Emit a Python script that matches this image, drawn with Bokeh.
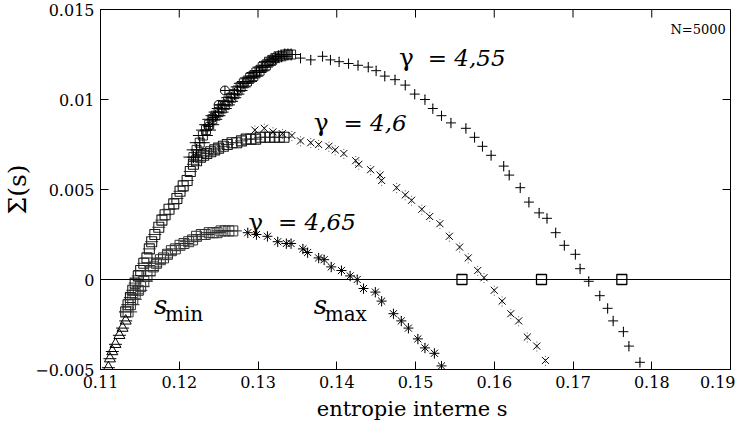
from bokeh.plotting import figure
from bokeh.models import Range1d, FixedTicker, Span, Label
from bokeh.embed import file_html
from bokeh.resources import INLINE

# ---------------- data ----------------
x_ticks = [0.11, 0.12, 0.13, 0.14, 0.15, 0.16, 0.17, 0.18, 0.19]
y_ticks = [-0.005, 0, 0.005, 0.01, 0.015]
y_tick_labels = ["\u22120.005", "0", "0.005", "0.01", "0.015"]

# gamma = 4.55 : dense branch (+ with horizontal bars)
s455_dense = [0.1218, 0.1222, 0.1226, 0.1230, 0.1234, 0.1238, 0.1242, 0.1246, 0.1250, 0.1254,
              0.1258, 0.1262, 0.1266, 0.1270, 0.1274, 0.1278, 0.1282, 0.1286, 0.1290, 0.1294,
              0.1298, 0.1302, 0.1306, 0.1310, 0.1314, 0.1318, 0.1322, 0.1326, 0.1330, 0.1334,
              0.1338, 0.1342]
sig455_dense = [0.0068, 0.0072, 0.0076, 0.0080, 0.0083, 0.0086, 0.0089, 0.0091, 0.0093, 0.0095,
                0.0097, 0.0099, 0.0101, 0.0103, 0.0105, 0.0107, 0.0109, 0.0110, 0.0112, 0.0113,
                0.0115, 0.0116, 0.0118, 0.0119, 0.0121, 0.0122, 0.0123, 0.0124, 0.0124, 0.0125,
                0.0125, 0.0125]
# gamma = 4.55 : a few isolated diamonds
s455_diam = [0.1237, 0.1243, 0.1250, 0.1258]
sig455_diam = [0.0085, 0.0090, 0.0097, 0.0105]
# gamma = 4.55 : sparse branch (+)
s455_plus = [0.1354, 0.1367, 0.1382, 0.1392, 0.1403, 0.1415, 0.1427, 0.1440, 0.1450, 0.1461,
             0.1474, 0.1487, 0.1499, 0.1512, 0.1522, 0.1533, 0.1545, 0.1564, 0.1575, 0.1585,
             0.1596, 0.1612, 0.1619, 0.1633, 0.1644, 0.1657, 0.1667, 0.1678, 0.1689, 0.1703,
             0.1709, 0.1720, 0.1734, 0.1744, 0.1751, 0.1764, 0.1771, 0.1785]
sig455_plus = [0.0123, 0.0122, 0.0124, 0.0122, 0.0121, 0.0120, 0.0119, 0.0118, 0.0116, 0.0113,
               0.0111, 0.0108, 0.0103, 0.0100, 0.0095, 0.0091, 0.0087, 0.0084, 0.0079, 0.0074,
               0.0069, 0.0063, 0.0058, 0.0051, 0.0043, 0.0037, 0.0034, 0.0026, 0.0019, 0.0014,
               0.0006, -0.0001, -0.0009, -0.0016, -0.0023, -0.0029, -0.0037, -0.0046]

# gamma = 4.6 : dense branch (squares)
s46_sq = [0.1132, 0.1135, 0.1138, 0.1141, 0.1144, 0.1148, 0.1151, 0.1155, 0.1159, 0.1162,
          0.1165, 0.1169, 0.1174, 0.1178, 0.1182, 0.1187, 0.1193, 0.1197, 0.1201, 0.1205,
          0.1210, 0.1214, 0.1218, 0.1222, 0.1227, 0.1231, 0.1235, 0.1240, 0.1245, 0.1250,
          0.1256, 0.1261, 0.1267, 0.1273, 0.1279, 0.1285, 0.1291, 0.1297, 0.1303, 0.1309,
          0.1315, 0.1321, 0.1327, 0.1333]
sig46_sq = [-0.0018, -0.0014, -0.0010, -0.0006, -0.0002, 0.0002, 0.0005, 0.0009, 0.0012, 0.0017,
            0.0021, 0.0025, 0.0029, 0.0033, 0.0036, 0.0039, 0.0042, 0.0045, 0.0049, 0.0052,
            0.0055, 0.0060, 0.0064, 0.0066, 0.0068, 0.0069, 0.0070, 0.0071, 0.0072, 0.0073,
            0.0074, 0.0075, 0.0076, 0.0076, 0.0077, 0.0078, 0.0078, 0.0078, 0.0079, 0.0079,
            0.0079, 0.0079, 0.0079, 0.0079]
# gamma = 4.6 : sparse branch (x)
s46_x = [0.1296, 0.1308, 0.1319, 0.1331, 0.1343, 0.1354, 0.1367, 0.1377, 0.1390, 0.1398,
         0.1409, 0.1424, 0.1428, 0.1443, 0.1455, 0.1457, 0.1476, 0.1487, 0.1495, 0.1508,
         0.1518, 0.1531, 0.1543, 0.1556, 0.1567, 0.1579, 0.1587, 0.1600, 0.1610, 0.1621,
         0.1631, 0.1642, 0.1654, 0.1665]
sig46_x = [0.0083, 0.0084, 0.0082, 0.0081, 0.0080, 0.0077, 0.0076, 0.0075, 0.0074, 0.0072,
           0.0070, 0.0066, 0.0064, 0.0061, 0.0058, 0.0055, 0.0051, 0.0047, 0.0044, 0.0039,
           0.0035, 0.0031, 0.0024, 0.0018, 0.0012, 0.0005, 0.0001, -0.0006, -0.0012, -0.0019,
           -0.0023, -0.0032, -0.0037, -0.0045]

# gamma = 4.65 : triangles, dense branch, sparse branch (*)
s465_tri = [0.1110, 0.1112, 0.1115, 0.1119, 0.1124, 0.1128, 0.1132]
sig465_tri = [-0.0049, -0.0044, -0.0040, -0.0036, -0.0031, -0.0027, -0.0023]
s465_dense = [0.1135, 0.1138, 0.1141, 0.1144, 0.1148, 0.1151, 0.1155, 0.1159, 0.1163, 0.1167,
              0.1171, 0.1176, 0.1180, 0.1185, 0.1190, 0.1195, 0.1201, 0.1206, 0.1212, 0.1217,
              0.1222, 0.1228, 0.1233, 0.1238, 0.1243, 0.1248, 0.1253, 0.1258, 0.1263, 0.1268]
sig465_dense = [-0.0018, -0.0014, -0.0011, -0.0008, -0.0006, -0.0004, -0.0001, 0.0002, 0.0005, 0.0007,
                0.0009, 0.0011, 0.0012, 0.0014, 0.0016, 0.0017, 0.0019, 0.0020, 0.0021, 0.0022,
                0.0024, 0.0025, 0.0025, 0.0026, 0.0026, 0.0026, 0.0027, 0.0027, 0.0027, 0.0027]
s465_star = [0.1287, 0.1298, 0.1312, 0.1325, 0.1336, 0.1342, 0.1357, 0.1363, 0.1377, 0.1384,
             0.1393, 0.1406, 0.1417, 0.1426, 0.1434, 0.1449, 0.1457, 0.1472, 0.1482, 0.1491,
             0.1503, 0.1512, 0.1524, 0.1533]
sig465_star = [0.0026, 0.0025, 0.0024, 0.0021, 0.0020, 0.0020, 0.0017, 0.0015, 0.0012, 0.0011,
               0.0007, 0.0005, 0.0002, 0.0000, -0.0005, -0.0007, -0.0012, -0.0019, -0.0023, -0.0027,
               -0.0033, -0.0038, -0.0041, -0.0048]

# zeros of Sigma (squares on the axis)
s_zero = [0.1559, 0.1660, 0.1762]
sig_zero = [0.0, 0.0, 0.0]

ERR = 0.0003       # half-length of dotted error bars on sparse points
TICK_X = 0.00101   # inner tick length (8 px) on the right side, in x units
TICK_Y = 0.00045   # inner tick length (8 px) on the top side, in y units

# ---------------- figure ----------------
SERIF = "DejaVu Serif"

X0, X1, Y0, Y1 = x_ticks[0], x_ticks[-1], y_ticks[0], y_ticks[-1]
p = figure(width=735, height=430, output_backend="svg", toolbar_location=None,
           x_range=Range1d(X0, X1), y_range=Range1d(Y0, Y1),
           min_border_left=95, min_border_right=5, min_border_top=9, min_border_bottom=61)
p.background_fill_color = "white"
p.border_fill_color = "white"
p.outline_line_color = "black"
p.grid.visible = False

p.xaxis.ticker = FixedTicker(ticks=x_ticks)
p.yaxis.ticker = FixedTicker(ticks=y_ticks)
p.yaxis.major_label_overrides = {t: l for t, l in zip(y_ticks, y_tick_labels)}
for ax in (p.xaxis[0], p.yaxis[0]):
    ax.major_tick_in = 8
    ax.major_tick_out = 0
    ax.minor_tick_in = 0
    ax.minor_tick_out = 0
    ax.axis_line_color = "black"
    ax.major_label_text_font = SERIF
    ax.major_label_text_font_size = "16px"
    ax.major_label_text_color = "black"
    ax.axis_label_text_font = SERIF
    ax.axis_label_text_font_style = "normal"
    ax.axis_label_text_color = "black"
p.xaxis.major_label_standoff = 6
p.yaxis.major_label_standoff = 6
p.xaxis.axis_label = "entropie interne  s"
p.xaxis.axis_label_text_font_size = "21px"
p.xaxis.axis_label_standoff = 6
p.yaxis.axis_label = "\u03a3(s)"
p.yaxis.axis_label_text_font_size = "25px"
p.yaxis.axis_label_standoff = 0

# mirrored inner ticks on the top and right edges
p.segment(x0=x_ticks, x1=x_ticks, y0=[Y1] * len(x_ticks), y1=[Y1 - TICK_Y] * len(x_ticks),
          line_color="black", line_width=1)
p.segment(x0=[X1] * len(y_ticks), x1=[X1 - TICK_X] * len(y_ticks), y0=y_ticks, y1=y_ticks,
          line_color="black", line_width=1)

p.add_layout(Span(location=0, dimension="width", line_color="black", line_width=1))

# dotted error bars on sparse points
for xs, ys in ((s455_plus, sig455_plus), (s46_x, sig46_x), (s465_star, sig465_star)):
    p.segment(x0=xs, x1=xs, y0=[v - ERR for v in ys], y1=[v + ERR for v in ys],
              line_color="#555555", line_width=1, line_dash="1 2")

# dense branches
p.scatter(s46_sq, sig46_sq, marker="dash", size=13, line_color="#333333", line_width=1)
p.scatter(s46_sq, sig46_sq, marker="square", size=10, fill_color=None,
          line_color="#1a1a1a", line_width=1.1)
p.scatter(s465_dense, sig465_dense, marker="dash", size=18, line_color="#2a2a2a", line_width=1)
p.scatter(s465_dense, sig465_dense, marker="square", size=10, fill_color=None,
          line_color="#333333", line_width=1)
p.scatter(s455_dense, sig455_dense, marker="dash", size=20, line_color="black", line_width=1)
p.scatter(s455_dense, sig455_dense, marker="square", size=9, fill_color=None,
          line_color="#222222", line_width=1)
p.scatter(s455_dense, sig455_dense, marker="cross", size=12, line_color="black", line_width=1.2)
p.scatter(s455_diam, sig455_diam, marker="circle_cross", size=9, fill_color=None,
          line_color="black", line_width=1)
p.scatter(s465_tri, sig465_tri, marker="dash", size=13, line_color="black", line_width=1)
p.scatter(s465_tri, sig465_tri, marker="triangle", size=11, fill_color=None,
          line_color="black", line_width=1)

# sparse branches
p.scatter(s455_plus, sig455_plus, marker="cross", size=10, line_color="black", line_width=1)
p.scatter(s46_x, sig46_x, marker="x", size=10, line_color="black", line_width=1)
p.scatter(s465_star, sig465_star, marker="asterisk", size=10, line_color="black", line_width=1)

# zeros
p.scatter(s_zero, sig_zero, marker="square", size=10, fill_color="white",
          line_color="black", line_width=1.3)

# ---------------- texts inside the frame ----------------
def txt(x, y, t, size, style="normal", align="left"):
    p.add_layout(Label(x=x, y=y, text=t, text_font=SERIF, text_font_size=size,
                       text_font_style=style, text_align=align, text_baseline="alphabetic",
                       text_color="black"))

# gamma labels
txt(0.14791, 0.01233, "\u03b3", "25px")
txt(0.15156, 0.01233, "= 4,55", "23px", style="italic")
txt(0.13708, 0.00872, "\u03b3", "25px")
txt(0.14086, 0.00872, "= 4,6", "23px", style="italic")
txt(0.12877, 0.00317, "\u03b3", "25px")
txt(0.13254, 0.00317, "= 4,65", "23px", style="italic")

# s_min, s_max
txt(0.11680, -0.00139, "s", "26px", style="italic")
txt(0.11819, -0.00189, "min", "20px")
txt(0.13708, -0.00139, "s", "26px", style="italic")
txt(0.13847, -0.00189, "max", "20px")

# N=5000
txt(0.1894, 0.01389, "N=5000", "13px", align="right")

open("out.html", "w").write(file_html(p, INLINE))
